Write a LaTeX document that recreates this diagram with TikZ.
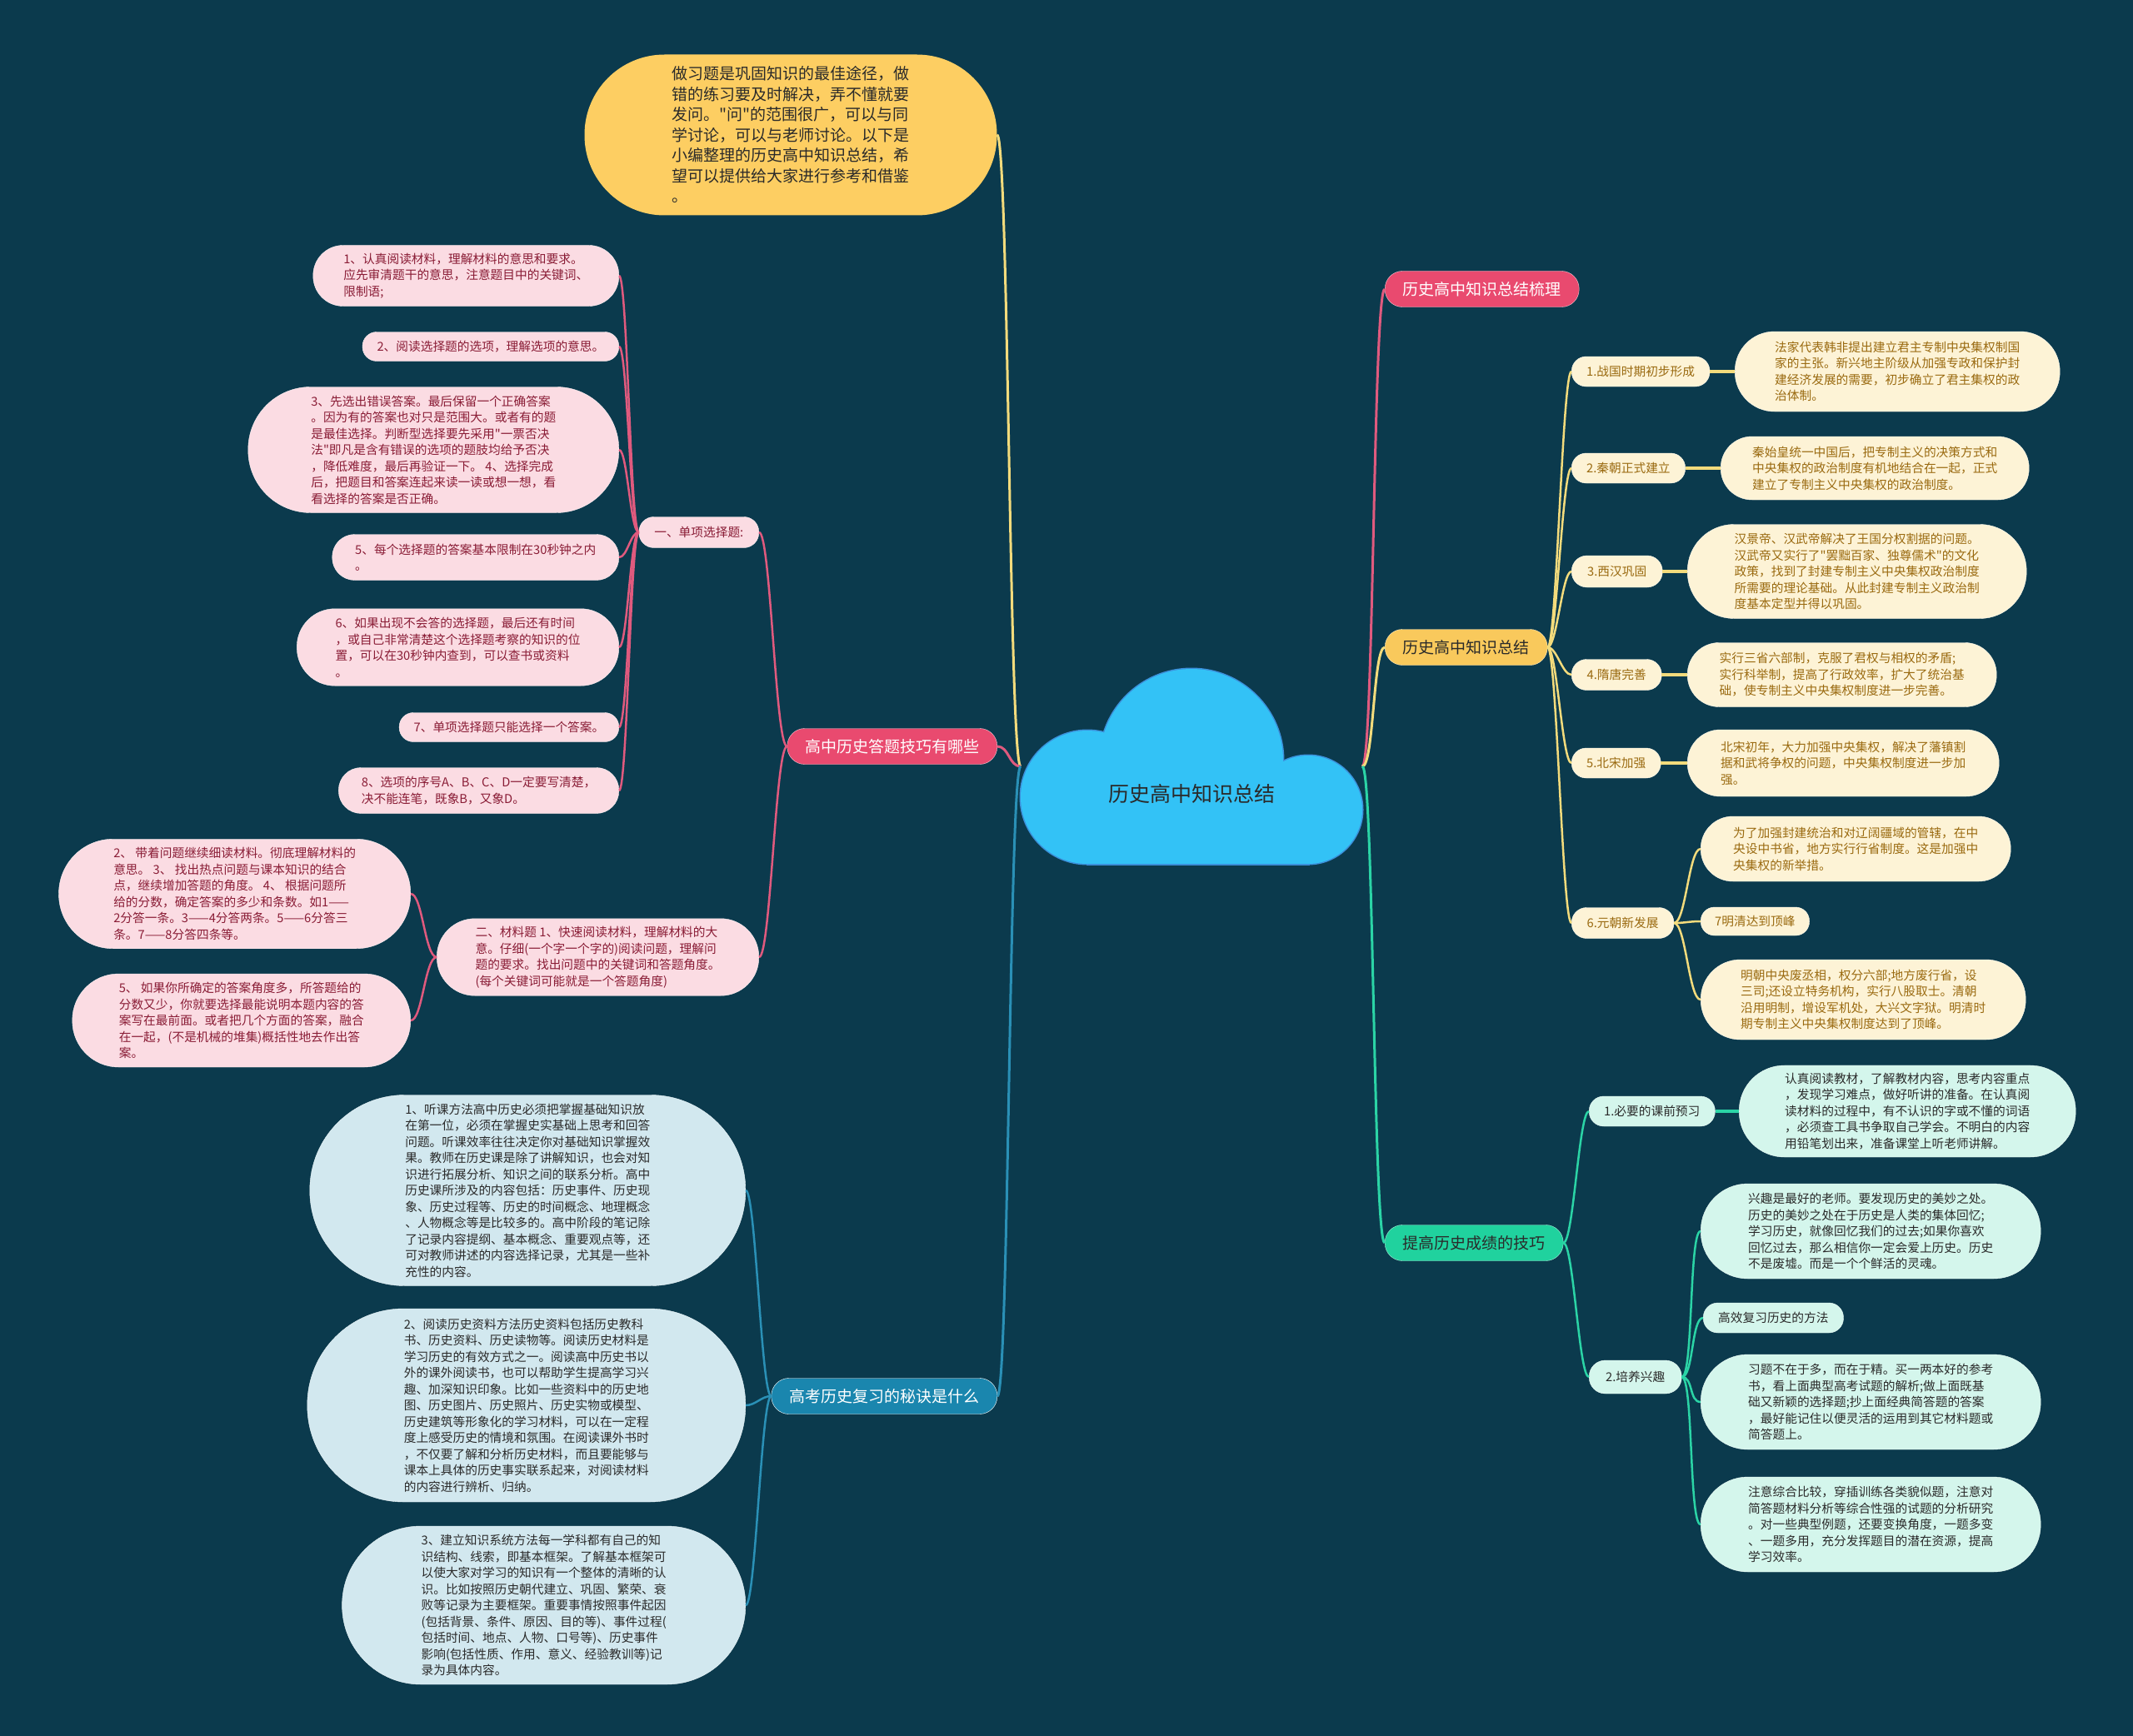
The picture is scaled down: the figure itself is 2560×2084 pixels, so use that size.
\documentclass[tikz,border=0pt]{standalone}
\usepackage{fontspec}
\setmainfont{Noto Sans CJK SC}[Ligatures=TeXOff]
\usetikzlibrary{shapes.misc,positioning}
\definecolor{bgc}{HTML}{0B3A4D}
\definecolor{cloudc}{HTML}{33C2F6}
\definecolor{cloudln}{HTML}{3B8FDA}
\definecolor{pinkc}{HTML}{E94A6F}
\definecolor{pinkln}{HTML}{E05A7E}
\definecolor{pinklt}{HTML}{FBDCE3}
\definecolor{pinktx}{HTML}{8A1D36}
\definecolor{goldc}{HTML}{F9C95C}
\definecolor{goldln}{HTML}{F3DB7C}
\definecolor{creamc}{HTML}{FDF3D6}
\definecolor{creamtx}{HTML}{9A6A10}
\definecolor{topc}{HTML}{FDCE62}
\definecolor{greenc}{HTML}{20D29E}
\definecolor{greenln}{HTML}{2BD4A6}
\definecolor{mintc}{HTML}{D4F6EC}
\definecolor{bluec}{HTML}{1A86AE}
\definecolor{blueln}{HTML}{2A90B6}
\definecolor{bluelt}{HTML}{D2E8EF}
\definecolor{darktx}{HTML}{2A2A2A}
\newcommand\leaffont{\fontsize{14.7}{19.5}\selectfont}
\newcommand\branchfont{\fontsize{19}{23}\selectfont}
\newcommand\topfont{\fontsize{19}{24.5}\selectfont}
\newcommand\rootfont{\fontsize{25}{30}\selectfont}

\begin{document}
\begin{tikzpicture}[x=1pt,y=-1pt,
  pill/.style={rectangle,align=left,rounded corners=#1-0.5,inner xsep=#1,inner ysep=9,minimum height=2*#1},
  branchbox/.style={pill=21.5,font=\branchfont},
  pinkleaf/.style={pill=#1,font=\leaffont,fill=pinklt,draw=white!60!pinklt,text=pinktx},
  creamleaf/.style={pill=#1,font=\leaffont,fill=creamc,draw=white!60!creamc,text=creamtx},
  mintleaf/.style={pill=#1,font=\leaffont,fill=mintc,draw=white!60!mintc,text=darktx},
  blueleaf/.style={pill=#1,font=\leaffont,fill=bluelt,draw=white!60!bluelt,text=darktx},
  pinkline/.style={draw=pinkln,line width=3},
  goldline/.style={draw=goldln,line width=3},
  greenline/.style={draw=greenln,line width=3},
  blueline/.style={draw=blueln,line width=3}]
\fill[bgc] (0,0) rectangle (2560,2084);
\useasboundingbox (0,0) rectangle (2560,2084);
% cloud in the middle
\draw[cloudln,line width=3] (1305,957) circle[radius=80];
\draw[cloudln,line width=3] (1430,913) circle[radius=110];
\draw[cloudln,line width=3] (1570,972) circle[radius=65];
\draw[cloudln,line width=3] (1305,930) rectangle (1570,1037);
\fill[cloudc] (1305,957) circle[radius=80];
\fill[cloudc] (1430,913) circle[radius=110];
\fill[cloudc] (1570,972) circle[radius=65];
\fill[cloudc] (1305,930) rectangle (1570,1037);
\node[font=\rootfont,text=darktx] (root) at (1430,953) {历史高中知识总结};
\coordinate (rootL) at (1225,920);
\coordinate (rootR) at (1635,920);

% left side
\node[pill=96.5,inner xsep=105,font=\topfont,fill=topc,text=darktx] (intro) at (949,162)
 {做习题是巩固知识的最佳途径，做\\错的练习要及时解决，弄不懂就要\\发问。"问"的范围很广，可以与同\\学讨论，可以与老师讨论。以下是\\小编整理的历史高中知识总结，希\\望可以提供给大家进行参考和借鉴\\。};
\node[branchbox,fill=pinkc,draw=white!70!pinkc,text=white,anchor=east] (skill) at (1197,896) {高中历史答题技巧有哪些};
\node[branchbox,fill=bluec,draw=white,text=white,anchor=east] (review) at (1197,1676) {高考历史复习的秘诀是什么};

\node[pinkleaf=18.5,anchor=east] (single) at (911,639) {一、单项选择题:};
\node[pinkleaf=46.25,anchor=east] (mat) at (911,1149)
 {二、材料题 1、快速阅读材料，理解材料的大\\意。仔细(一个字一个字的)阅读问题，理解问\\题的要求。找出问题中的关键词和答题角度。\\(每个关键词可能就是一个答题角度)};

\node[pinkleaf=36.5,anchor=east] (s1) at (743,331)
 {1、认真阅读材料，理解材料的意思和要求。\\应先审清题干的意思，注意题目中的关键词、\\限制语;};
\node[pinkleaf=17.5,anchor=east] (s2) at (743,416) {2、阅读选择题的选项，理解选项的意思。};
\node[pinkleaf=75.5,anchor=east] (s3) at (743,540)
 {3、先选出错误答案。最后保留一个正确答案\\。因为有的答案也对只是范围大。或者有的题\\是最佳选择。判断型选择要先采用"一票否决\\法"即凡是含有错误的选项的题肢均给予否决\\，降低难度，最后再验证一下。 4、选择完成\\后，把题目和答案连起来读一读或想一想，看\\看选择的答案是否正确。};
\node[pinkleaf=27.5,anchor=east] (s4) at (743,669) {5、每个选择题的答案基本限制在30秒钟之内\\。};
\node[pinkleaf=46.25,anchor=east] (s5) at (743,777)
 {6、如果出现不会答的选择题，最后还有时间\\，或自己非常清楚这个选择题考察的知识的位\\置，可以在30秒钟内查到，可以查书或资料\\。};
\node[pinkleaf=17.5,anchor=east] (s6) at (743,873) {7、单项选择题只能选择一个答案。};
\node[pinkleaf=27.5,anchor=east] (s7) at (743,949)
 {8、选项的序号A、B、C、D一定要写清楚，\\决不能连笔，既象B，又象D。};

\node[pinkleaf=65.75,anchor=east] (m1) at (493,1073)
 {2、 带着问题继续细读材料。彻底理解材料的\\意思。 3、 找出热点问题与课本知识的结合\\点，继续增加答题的角度。 4、 根据问题所\\给的分数，确定答案的多少和条数。如1——\\2分答一条。3——4分答两条。5——6分答三\\条。7——8分答四条等。};
\node[pinkleaf=56,anchor=east] (m2) at (493,1225)
 {5、 如果你所确定的答案角度多，所答题给的\\分数又少，你就要选择最能说明本题内容的答\\案写在最前面。或者把几个方面的答案，融合\\在一起，(不是机械的堆集)概括性地去作出答\\案。};

\node[blueleaf=114.5,anchor=east] (v1) at (895,1429)
 {1、听课方法高中历史必须把掌握基础知识放\\在第一位，必须在掌握史实基础上思考和回答\\问题。听课效率往往决定你对基础知识掌握效\\果。教师在历史课是除了讲解知识，也会对知\\识进行拓展分析、知识之间的联系分析。高中\\历史课所涉及的内容包括：历史事件、历史现\\象、历史过程等、历史的时间概念、地理概念\\、人物概念等是比较多的。高中阶段的笔记除\\了记录内容提纲、基本概念、重要观点等，还\\可对教师讲述的内容选择记录，尤其是一些补\\充性的内容。};
\node[blueleaf=116,anchor=east] (v2) at (895,1687)
 {2、阅读历史资料方法历史资料包括历史教科\\书、历史资料、历史读物等。阅读历史材料是\\学习历史的有效方式之一。阅读高中历史书以\\外的课外阅读书，也可以帮助学生提高学习兴\\趣、加深知识印象。比如一些资料中的历史地\\图、历史图片、历史照片、历史实物或模型、\\历史建筑等形象化的学习材料，可以在一定程\\度上感受历史的情境和氛围。在阅读课外书时\\，不仅要了解和分析历史材料，而且要能够与\\课本上具体的历史事实联系起来，对阅读材料\\的内容进行辨析、归纳。};
\node[blueleaf=95,anchor=east] (v3) at (895,1927)
 {3、建立知识系统方法每一学科都有自己的知\\识结构、线索，即基本框架。了解基本框架可\\以使大家对学习的知识有一个整体的清晰的认\\识。比如按照历史朝代建立、巩固、繁荣、衰\\败等记录为主要框架。重要事情按照事件起因\\(包括背景、条件、原因、目的等)、事件过程(\\包括时间、地点、人物、口号等)、历史事件\\影响(包括性质、作用、意义、经验教训等)记\\录为具体内容。};

% right side
\node[branchbox,fill=pinkc,draw=white!70!pinkc,text=white,anchor=west] (tidy) at (1662,347) {历史高中知识总结梳理};
\node[branchbox,fill=goldc,draw=white!60!goldc,text=darktx,anchor=west] (sum) at (1662,777) {历史高中知识总结};
\node[branchbox,fill=greenc,draw=white!60!greenc,text=darktx,anchor=west] (tips) at (1662,1492) {提高历史成绩的技巧};

\node[creamleaf=18,anchor=west] (p1) at (1886,446) {1.战国时期初步形成};
\node[creamleaf=18,anchor=west] (p2) at (1886,562) {2.秦朝正式建立};
\node[creamleaf=19,anchor=west] (p3) at (1886,686) {3.西汉巩固};
\node[creamleaf=18.5,anchor=west] (p4) at (1886,810) {4.隋唐完善};
\node[creamleaf=18,anchor=west] (p5) at (1886,916) {5.北宋加强};
\node[creamleaf=18.5,anchor=west] (p6) at (1886,1108) {6.元朝新发展};

\node[creamleaf=48,anchor=west] (d1) at (2082,446)
 {法家代表韩非提出建立君主专制中央集权制国\\家的主张。新兴地主阶级从加强专政和保护封\\建经济发展的需要，初步确立了君主集权的政\\治体制。};
\node[creamleaf=38,anchor=west] (d2) at (2065,562)
 {秦始皇统一中国后，把专制主义的决策方式和\\中央集权的政治制度有机地结合在一起，正式\\建立了专制主义中央集权的政治制度。};
\node[creamleaf=56.5,anchor=west] (d3) at (2025,686)
 {汉景帝、汉武帝解决了王国分权割据的问题。\\汉武帝又实行了"罢黜百家、独尊儒术"的文化\\政策，找到了封建专制主义中央集权政治制度\\所需要的理论基础。从此封建专制主义政治制\\度基本定型并得以巩固。};
\node[creamleaf=38.5,anchor=west] (d4) at (2025,810)
 {实行三省六部制，克服了君权与相权的矛盾;\\实行科举制，提高了行政效率，扩大了统治基\\础，使专制主义中央集权制度进一步完善。};
\node[creamleaf=40,anchor=west] (d5) at (2025,916)
 {北宋初年，大力加强中央集权，解决了藩镇割\\据和武将争权的问题，中央集权制度进一步加\\强。};
\node[creamleaf=39,anchor=west] (d6) at (2041,1019)
 {为了加强封建统治和对辽阔疆域的管辖，在中\\央设中书省，地方实行行省制度。这是加强中\\央集权的新举措。};
\node[creamleaf=17,anchor=west] (d7) at (2041,1106) {7明清达到顶峰};
\node[creamleaf=48,anchor=west] (d8) at (2041,1200)
 {明朝中央废丞相，权分六部;地方废行省，设\\三司;还设立特务机构，实行八股取士。清朝\\沿用明制，增设军机处，大兴文字狱。明清时\\期专制主义中央集权制度达到了顶峰。};

\node[mintleaf=18,anchor=west] (g1) at (1907,1334) {1.必要的课前预习};
\node[mintleaf=20,anchor=west] (g2) at (1907,1653) {2.培养兴趣};
\node[mintleaf=55,anchor=west] (t1) at (2087,1334)
 {认真阅读教材，了解教材内容，思考内容重点\\，发现学习难点，做好听讲的准备。在认真阅\\读材料的过程中，有不认识的字或不懂的词语\\，必须查工具书争取自己学会。不明白的内容\\用铅笔划出来，准备课堂上听老师讲解。};
\node[mintleaf=57,anchor=west] (t2) at (2041,1478)
 {兴趣是最好的老师。要发现历史的美妙之处。\\历史的美妙之处在于历史是人类的集体回忆;\\学习历史，就像回忆我们的过去;如果你喜欢\\回忆过去，那么相信你一定会爱上历史。历史\\不是废墟。而是一个个鲜活的灵魂。};
\node[mintleaf=18,anchor=west] (t3) at (2044,1582) {高效复习历史的方法};
\node[mintleaf=57,anchor=west] (t4) at (2041,1683)
 {习题不在于多，而在于精。买一两本好的参考\\书，看上面典型高考试题的解析;做上面既基\\础又新颖的选择题;抄上面经典简答题的答案\\，最好能记住以便灵活的运用到其它材料题或\\简答题上。};
\node[mintleaf=57,anchor=west] (t5) at (2041,1830)
 {注意综合比较，穿插训练各类貌似题，注意对\\简答题材料分析等综合性强的试题的分析研究\\。对一些典型例题，还要变换角度，一题多变\\、一题多用，充分发挥题目的潜在资源，提高\\学习效率。};

% connectors
\draw[goldline] (rootL) to[out=180,in=0,distance=14] (intro.east);
\draw[pinkline] (rootL) to[out=180,in=0,distance=14] (skill.east);
\draw[blueline] (rootL) to[out=180,in=0,distance=14] (review.east);
\draw[pinkline] (rootR) to[out=0,in=180,distance=14] (tidy.west);
\draw[goldline] (rootR) to[out=0,in=180,distance=14] (sum.west);
\draw[greenline] (rootR) to[out=0,in=180,distance=14] (tips.west);
\foreach \c in {single,mat}
  \draw[pinkline,line width=2.5] (skill.west) to[out=180,in=0,distance=14] (\c.east);
\foreach \c in {s1,s2,s3,s4,s5,s6,s7}
  \draw[pinkline,line width=2.5] (single.west) to[out=180,in=0,distance=10] (\c.east);
\foreach \c in {m1,m2}
  \draw[pinkline,line width=2.5] (mat.west) to[out=180,in=0,distance=14] (\c.east);
\foreach \c in {v1,v2,v3}
  \draw[blueline,line width=2.5] (review.west) to[out=180,in=0,distance=12] (\c.east);
\foreach \c in {p1,p2,p3,p4,p5,p6}
  \draw[goldline,line width=2.5] (sum.east) to[out=0,in=180,distance=11] (\c.west);
\foreach \a/\b in {p1/d1,p2/d2,p3/d3,p4/d4,p5/d5}
  \draw[goldline,line width=4.5] (\a.east) -- (\b.west);
\foreach \c in {d6,d7,d8}
  \draw[goldline,line width=2.5] (p6.east) to[out=0,in=180,distance=14] (\c.west);
\foreach \c in {g1,g2}
  \draw[greenline,line width=2.5] (tips.east) to[out=0,in=180,distance=12] (\c.west);
\draw[greenline,line width=4.5] (g1.east) -- (t1.west);
\foreach \c in {t2,t3,t4,t5}
  \draw[greenline,line width=2.5] (g2.east) to[out=0,in=180,distance=14] (\c.west);
\end{tikzpicture}
\end{document}
